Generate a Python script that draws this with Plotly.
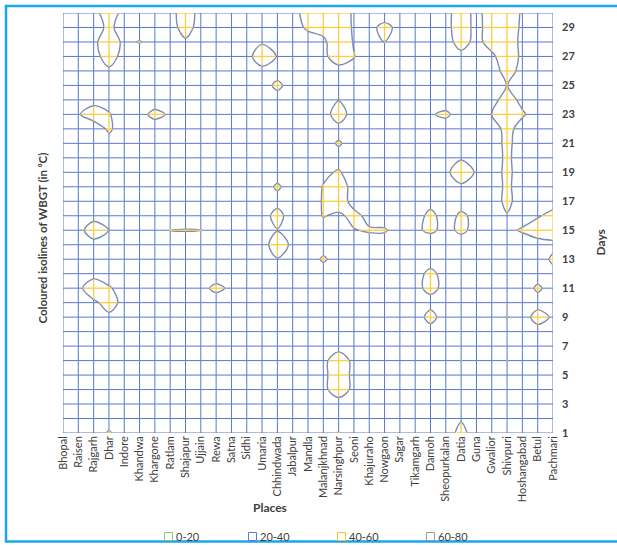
import plotly.graph_objects as go

# Places along the horizontal axis
places = [
    "Bhopal", "Raisen", "Rajgarh", "Dhar", "Indore", "Khandwa", "Khargone",
    "Ratlam", "Shajapur", "Ujjain", "Rewa", "Satna", "Sidhi", "Umaria",
    "Chhindwada", "Jabalpur", "Mandla", "Malanjkhnad", "Narsinghpur", "Seoni",
    "Khajuraho", "Nowgaon", "Sagar", "Tikamgarh", "Damoh", "Sheopurkalan",
    "Datia", "Guna", "Gwalior", "Shivpuri", "Hoshangabad", "Betul", "Pachmari",
]

days = list(range(1, 31))
day_ticks = list(range(1, 30, 2))

# WBGT (deg C) per day (rows, day 1..30) and place (columns, same order as places)
wbgt_by_day = [
    [34,33,33,41.5,33,35,34,33,35,34,33,35,34,33,35,34,33,34,40.5,34,33,35,34,33,35,34,44,34,33,35,34,33,35],   # 1
    [33,34,33,33,35,34,33,35,34,33,35,34,33,35,34,33,35,34,34,33,35,34,33,35,34,34,38.7,34,35,34,33,35,34],    # 2
    [34,33,35,34,33,35,34,33,35,34,33,34,35,33,34,35,34,33,35,34,33,35,34,33,35,34,33,35,34,33,35,34,33],      # 3
    [33,34,33,35,34,33,35,34,33,35,34,33,35,34,40.1,34,33,37.3,46,37.3,35,34,33,35,34,33,35,34,33,35,34,33,34],  # 4
    [34,33,35,34,33,35,34,33,35,34,33,35,34,33,35,34,35,37,47,37,34,33,35,34,33,35,34,33,35,34,33,34,35],      # 5
    [33,35,34,33,35,34,33,35,34,33,35,34,33,35,34,33,34,37.3,46,37.3,33,35,34,33,35,34,40.1,34,34,40.1,34,35,33],  # 6
    [34,33,35,34,33,34,35,33,34,35,33,34,35,34,33,34,35,34,36,35,34,33,35,34,33,34,35,33,34,35,34,33,35],      # 7
    [33,34,33,35,34,35,33,34,33,35,34,35,33,34,35,33,34,35,33,34,35,34,33,35,35,33,34,35,33,34,35,36,34],      # 8
    [34,33,35,38,35,33,34,33,35,34,35,33,34,35,33,34,35,33,34,35,34,33,35,34,44,34,33,35,34,40.3,35,44,38.5],  # 9
    [33,35,38,44,37,34,33,35,34,33,33,34,35,33,34,35,33,34,35,34,33,35,34,35,36,35,34,35,33,34,35,36,34],      # 10
    [34,37,47,41,36,33,34,33,35,36,43,37.5,35,34,35,33,34,35,34,33,35,34,33,37,43,37,35,33,34,33,35,41.5,36],  # 11
    [33,34,36,35,34,35,33,34,35,34,33,35,34,35,33,34,35,34,33,35,34,33,35,37,42,37,34,35,33,34,35,36,37],      # 12
    [34,33,35,34,35,33,34,35,33,34,35,34,33,34,39.5,36,34,41.5,35,34,33,35,34,33,36,34,35,33,34,35,33,34,42],  # 13
    [33,34,36,38,33,34,35,34,34,34,33,35,34,36,45,38,34,35,35,39.5,35,35,34,35,33,35,34,35,34,34,35,36,37],    # 14
    [34,36,46,39.8,34,33,34,40.3,40.5,40.2,34,33,35,36,39.5,35,33,35,35,39.5,41,41,35,38,42,37,42,37,35,38,41,45,47],  # 15
    [33,34,36,38,34,33,34,34,34,34,35,34,33,35,44,34,33,40.6,38,43,37,35,34,35,43,35,42,37,35,39.3,36,39,43],  # 16
    [34,33,35,34,33,35,34,33,35,34,33,35,34,34,36,34,33,41,46,36,34,33,35,34,36,34,35,33,35,42.5,35,34,36],    # 17
    [33,35,34,33,35,34,33,35,33,34,35,33,34,35,41.5,35,33,40.5,47,35,33,34,35,33,34,35,37,34,35,42,35,33,34],  # 18
    [34,33,35,33,34,35,34,33,34,35,33,34,35,33,35,33,34,38,41,35,34,35,33,34,33,36,50,38,35,42.5,35,34,33],    # 19
    [33,34,33,34,35,34,33,34,35,33,34,35,33,34,35,34,33,34,36,34,35,33,34,33,35,34,38,33,35,42,35,33,34],      # 20
    [34,33,35,35,34,33,35,34,33,35,34,33,35,34,33,34,35,36,41,36,34,33,34,35,34,33,34,35,35,42.5,35,34,33],    # 21
    [33,34,33,42,33,34,32,35,33,34,33,35,34,33,34,35,34,35,36,35,33,34,35,34,33,34,35,33,34,44,35,33,34],      # 22
    [34,39,46,41,32,35,44,38,34,33,35,34,33,34,35,34,33,34.5,46,34.5,34,35,33,34,39,42,35,34,40.1,48,41.5,34,33],  # 23
    [33,34,36,35,34,33,32,34,33,35,34,33,34,35,36,33,34,34,39.5,34,35,33,34,35,33,34,33,34,36,45,37,34,35],    # 24
    [34,33,35,34,33,35,34,33,35,34,33,34,35,36,42,36,34,33,34,35,33,34,35,33,34,35,34,33,33,40.3,33,35,34],    # 25
    [33,34,34,38,34,34,33,35,34,33,34,35,33,35,36,34,35,34,35,35,34,35,33,34,35,33,34,34,35,44,37,34,33],      # 26
    [34,33,36,45,36,33,35,34,33,34,35,33,34,50,39,34,33,37,47,40.5,34,33,34,35,34,34,37,35,38,46,38,35,34],    # 27
    [33,35,37,48,37,40.6,34,35,38.5,35,34,35,34,38,38,34,34,37,50,39,34,40.2,34,34,33,36,44,37,44,49,36,34,35],  # 28
    [34,33,34,43,34,34,33,36,44,36,34,33,34,35,34,35,42,45,50,38,35,45,35,33,34,36,47,36,46,50,37,35,34],      # 29
    [33,34,37,45,37,33,34,36,46,36,35,34,33,34,33,36,45,47,48,38,35,30,33,34,33,37,45,37,45,50,38,34,33],      # 30
]

band_labels = ["0-20", "20-40", "40-60", "60-80"]
band_colors = ["#8DC26F", "#5B7BCB", "#F2C230", "#9A9A9A"]
isoline_level = 40

GRID_BLUE = "#5A78CB"
GRID_YELLOW = "#F8CE45"
ISOLINE = "#7D8CB6"
FRAME = "#1AA7EC"
TEXT = "#404040"
FONT = "Lato"


def add_segment(store, p0, p1):
    store[0].extend([p0[0], p1[0], None])
    store[1].extend([p0[1], p1[1], None])


def split_segment(p0, p1, v0, v1, cool, warm):
    """Colour a wireframe segment by band, splitting it where it crosses the isoline."""
    hot0, hot1 = v0 >= isoline_level, v1 >= isoline_level
    if hot0 == hot1:
        add_segment(warm if hot0 else cool, p0, p1)
        return
    t = (isoline_level - v0) / (v1 - v0)
    pm = (p0[0] + t * (p1[0] - p0[0]), p0[1] + t * (p1[1] - p0[1]))
    add_segment(warm if hot0 else cool, p0, pm)
    add_segment(warm if hot1 else cool, pm, p1)


cool = ([], [])
warm = ([], [])
n_places = len(places)
n_days = len(days)

# wireframe lines along each place (vertical)
for c in range(n_places):
    for i in range(n_days - 1):
        split_segment((c, days[i]), (c, days[i + 1]),
                      wbgt_by_day[i][c], wbgt_by_day[i + 1][c], cool, warm)
# wireframe lines along each day (horizontal)
for i in range(n_days):
    for c in range(n_places - 1):
        split_segment((c, days[i]), (c + 1, days[i]),
                      wbgt_by_day[i][c], wbgt_by_day[i][c + 1], cool, warm)

fig = go.Figure()
fig.add_trace(go.Scatter(x=cool[0], y=cool[1], mode="lines",
                         line=dict(color=GRID_BLUE, width=1),
                         hoverinfo="skip", showlegend=False))
fig.add_trace(go.Scatter(x=warm[0], y=warm[1], mode="lines",
                         line=dict(color=GRID_YELLOW, width=1.3),
                         hoverinfo="skip", showlegend=False))
fig.add_trace(go.Contour(
    z=wbgt_by_day, x=list(range(n_places)), y=days,
    autocontour=False,
    contours=dict(start=isoline_level, end=isoline_level, size=20, coloring="none"),
    line=dict(color=ISOLINE, width=1.4, smoothing=1.0),
    showscale=False, hoverinfo="skip",
))

# plot-area geometry helpers (pixels -> paper)
L, R, T, B = 63, 64, 13, 112
W, H = 617, 545
PW, PH = W - L - R, H - T - B


def px(x):
    return (x - L) / PW


def py(y):
    return (H - B - y) / PH


annotations = [
    dict(text="<b>Coloured isolines of WBGT (in ⁰C)</b>", x=px(33), y=py(238),
         xref="paper", yref="paper", textangle=-90, showarrow=False,
         font=dict(size=11.5, color=TEXT, family=FONT)),
    dict(text="<b>Days</b>", x=px(609), y=py(243), xref="paper", yref="paper",
         textangle=-90, showarrow=False, font=dict(size=12, color=TEXT, family=FONT)),
    dict(text="<b>Places</b>", x=px(270), y=py(517), xref="paper", yref="paper",
         showarrow=False, font=dict(size=12, color=TEXT, family=FONT)),
]
shapes = [
    dict(type="rect", xref="paper", yref="paper",
         x0=px(6), x1=px(640), y0=py(541.5), y1=py(6),
         line=dict(color=FRAME, width=2.5), layer="below"),
]

# legend keys
legend_x = [168.5, 252.5, 341.5, 430.5]
for label, color, cx in zip(band_labels, band_colors, legend_x):
    shapes.append(dict(type="rect", xref="paper", yref="paper",
                       x0=px(cx - 4), x1=px(cx + 4), y0=py(540.5), y1=py(532.5),
                       line=dict(color=color, width=1), fillcolor="white"))
    annotations.append(dict(text=label, x=px(cx + 5), y=py(536.5), xref="paper",
                            yref="paper", xanchor="left", yanchor="middle",
                            showarrow=False, font=dict(size=11, color=TEXT, family=FONT)))

fig.update_layout(
    width=W, height=H,
    margin=dict(l=L, r=R, t=T, b=B),
    paper_bgcolor="white", plot_bgcolor="white",
    showlegend=False,
    font=dict(family=FONT, color=TEXT),
    xaxis=dict(range=[0, n_places - 1], tickvals=list(range(n_places)), ticktext=places,
               tickangle=-90, showgrid=False, zeroline=False, showline=False,
               ticks="", tickfont=dict(size=11, color=TEXT, family=FONT)),
    yaxis=dict(range=[days[0], days[-1]], side="right", tickvals=day_ticks,
               showgrid=False, zeroline=False, showline=False, ticks="",
               ticklabelstandoff=8,
               tickfont=dict(size=11, color=TEXT, family=FONT, weight="bold")),
    annotations=annotations,
    shapes=shapes,
)

fig.write_html("out.html")
